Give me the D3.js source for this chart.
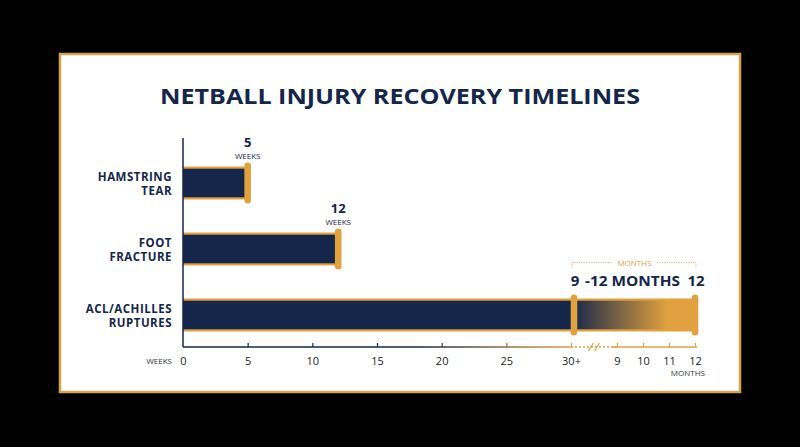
<!DOCTYPE html>
<html>
<head>
<meta charset="utf-8">
<script src="https://cdn.jsdelivr.net/npm/d3@7"></script>
<style>
  body { margin: 0; background: #000; }
  svg { display: block; }
</style>
</head>
<body>
<svg id="chart" width="800" height="447"></svg>
<script>
// data
const categories = ["HAMSTRING TEAR", "FOOT FRACTURE", "ACL/ACHILLES RUPTURES"];
const labelLines = [["HAMSTRING", "TEAR"], ["FOOT", "FRACTURE"], ["ACL/ACHILLES", "RUPTURES"]];
const weeks = [5, 12, 30];
const weekTicks = [0, 5, 10, 15, 20, 25, 30];
const weekTickLabels = ["0", "5", "10", "15", "20", "25", "30+"];
const monthTicks = [9, 10, 11, 12];
const aclMonths = [9, 12];

const navy = "#14264a";
const gold = "#e1a13f";
const font = "'Open Sans', 'DejaVu Sans', sans-serif";

var svg = d3.select("#chart");
var defs = svg.append("defs");

// panel
svg.append("rect")
   .attr("x", 60).attr("y", 54)
   .attr("width", 680).attr("height", 338)
   .attr("fill", "#fff")
   .attr("stroke", "#d6a24f")
   .attr("stroke-width", 2.5);

svg.append("text")
   .attr("x", 400).attr("y", 104)
   .attr("text-anchor", "middle")
   .attr("font-family", font)
   .attr("font-weight", 700)
   .attr("font-size", 22)
   .attr("textLength", 480)
   .attr("lengthAdjust", "spacingAndGlyphs")
   .attr("fill", navy)
   .text("NETBALL INJURY RECOVERY TIMELINES");

// scales
var x = d3.scaleLinear().domain([0, 30]).range([183, 571]);
var xm = d3.scaleLinear().domain([9, 12]).range([617, 695]);
var y = d3.scalePoint().domain(categories).range([183, 315]);
var barH = 33;
var axisY = 347;

// gradients
var g1 = defs.append("linearGradient").attr("id", "aclGrad")
  .attr("gradientUnits", "userSpaceOnUse")
  .attr("x1", x(30)).attr("x2", xm(12)).attr("y1", 0).attr("y2", 0);
g1.append("stop").attr("offset", "0%").attr("stop-color", navy);
g1.append("stop").attr("offset", "78%").attr("stop-color", gold);
g1.append("stop").attr("offset", "100%").attr("stop-color", gold);

var g2 = defs.append("linearGradient").attr("id", "axisGrad")
  .attr("gradientUnits", "userSpaceOnUse")
  .attr("x1", x(0)).attr("x2", x(30)).attr("y1", 0).attr("y2", 0);
g2.append("stop").attr("offset", "0%").attr("stop-color", navy);
g2.append("stop").attr("offset", "60%").attr("stop-color", navy);
g2.append("stop").attr("offset", "100%").attr("stop-color", gold);

// bars
var bars = svg.append("g");
categories.forEach(function(c, i) {
  var cy = y(c);
  var end = x(weeks[i]);
  var full = (i === 2) ? xm(aclMonths[1]) : end;
  bars.append("rect")
      .attr("x", x(0)).attr("y", cy - barH / 2)
      .attr("width", full - x(0)).attr("height", barH)
      .attr("fill", gold);
  bars.append("rect")
      .attr("x", x(0)).attr("y", cy - barH / 2 + 2.2)
      .attr("width", end - x(0)).attr("height", barH - 4.4)
      .attr("fill", navy);
  if (i === 2) {
    bars.append("rect")
        .attr("x", end).attr("y", cy - barH / 2 + 2.2)
        .attr("width", full - end).attr("height", barH - 4.4)
        .attr("fill", "url(#aclGrad)");
  }
  var caps = (i === 2) ? [end + 3, full] : [end];
  caps.forEach(function(cx) {
    bars.append("rect")
        .attr("x", cx - 3.3).attr("y", cy - barH / 2 - 4)
        .attr("width", 6.6).attr("height", barH + 8)
        .attr("rx", 3.3)
        .attr("fill", gold);
  });

  // category labels
  var t = svg.append("text")
      .attr("text-anchor", "end")
      .attr("font-family", font)
      .attr("font-weight", 700)
      .attr("font-size", 11.5)
      .attr("letter-spacing", 0.5)
      .attr("fill", navy);
  labelLines[i].forEach(function(l, k) {
    t.append("tspan").attr("x", 172).attr("y", cy - 2 + k * 14).text(l);
  });

  // value labels
  if (i < 2) {
    svg.append("text")
       .attr("x", end).attr("y", cy - barH / 2 - 20)
       .attr("text-anchor", "middle")
       .attr("font-family", font).attr("font-weight", 700).attr("font-size", 13)
       .attr("fill", navy).text(weeks[i]);
    svg.append("text")
       .attr("x", end).attr("y", cy - barH / 2 - 7.5)
       .attr("text-anchor", "middle")
       .attr("font-family", font).attr("font-size", 8)
       .attr("fill", navy).text("WEEKS");
  } else {
    var ty = cy - barH / 2 - 13;
    svg.append("text")
       .attr("x", end + 4).attr("y", ty)
       .attr("text-anchor", "middle")
       .attr("font-family", font).attr("font-weight", 700).attr("font-size", 15)
       .attr("fill", navy).text(aclMonths[0]);
    svg.append("text")
       .attr("x", end + 14).attr("y", ty)
       .attr("font-family", font).attr("font-weight", 700).attr("font-size", 15)
       .attr("textLength", 95).attr("lengthAdjust", "spacingAndGlyphs")
       .attr("fill", navy).text("-" + aclMonths[1] + " MONTHS");
    svg.append("text")
       .attr("x", full + 1).attr("y", ty)
       .attr("text-anchor", "middle")
       .attr("font-family", font).attr("font-weight", 700).attr("font-size", 15)
       .attr("fill", navy).text(aclMonths[1]);

    // months bracket
    var by = ty - 23;
    var br = svg.append("g").attr("stroke", gold).attr("stroke-width", 0.8)
                .attr("stroke-dasharray", "1.2,1.2").attr("fill", "none");
    br.append("path").attr("d", "M" + (end + 1) + "," + (by + 5) + "V" + by + "H" + 612);
    br.append("path").attr("d", "M" + 657 + "," + by + "H" + (full + 1) + "V" + (by + 5));
    svg.append("text")
       .attr("x", 634.5).attr("y", by + 3)
       .attr("text-anchor", "middle")
       .attr("font-family", font).attr("font-size", 8)
       .attr("fill", gold).text("MONTHS");
  }
});

// y axis line
svg.append("line")
   .attr("x1", x(0)).attr("x2", x(0))
   .attr("y1", 138).attr("y2", axisY)
   .attr("stroke", navy).attr("stroke-width", 1.5);

// week axis
svg.append("line")
   .attr("x1", x(0)).attr("x2", x(30))
   .attr("y1", axisY).attr("y2", axisY)
   .attr("stroke", "url(#axisGrad)").attr("stroke-width", 1.5);

var wAxis = svg.append("g").attr("transform", "translate(0," + axisY + ")")
  .call(d3.axisBottom(x).tickValues(weekTicks).tickSizeInner(-4).tickSizeOuter(0)
          .tickPadding(10).tickFormat(function(d, i) { return weekTickLabels[i]; }));
wAxis.select(".domain").remove();
wAxis.selectAll(".tick line").attr("stroke", function(d) { return d === 0 ? "none" : d3.interpolateRgb(navy, gold)(Math.max(0, (d - 18) / 12)); })
     .attr("stroke-width", 1.2);
wAxis.selectAll(".tick text").attr("font-family", font).attr("font-size", 11).attr("fill", "#222");

// broken segment
svg.append("line")
   .attr("x1", x(30)).attr("x2", xm(9))
   .attr("y1", axisY).attr("y2", axisY)
   .attr("stroke", gold).attr("stroke-width", 1.5)
   .attr("stroke-dasharray", "2,2");
[591, 597].forEach(function(sx) {
  svg.append("line")
     .attr("x1", sx - 2.5).attr("x2", sx + 2.5)
     .attr("y1", axisY + 4).attr("y2", axisY - 4)
     .attr("stroke", gold).attr("stroke-width", 1.3);
});

// month axis
svg.append("line")
   .attr("x1", xm(9) - 4).attr("x2", xm(12) + 2)
   .attr("y1", axisY).attr("y2", axisY)
   .attr("stroke", gold).attr("stroke-width", 1.5);
var mAxis = svg.append("g").attr("transform", "translate(0," + axisY + ")")
  .call(d3.axisBottom(xm).tickValues(monthTicks).tickSizeInner(-4).tickSizeOuter(0)
          .tickPadding(10).tickFormat(d3.format("d")));
mAxis.select(".domain").remove();
mAxis.selectAll(".tick line").attr("stroke", gold).attr("stroke-width", 1.2);
mAxis.selectAll(".tick text").attr("font-family", font).attr("font-size", 11).attr("fill", "#222");

// unit labels
svg.append("text")
   .attr("x", 172).attr("y", 364)
   .attr("text-anchor", "end")
   .attr("font-family", font).attr("font-size", 8)
   .attr("fill", "#333").text("WEEKS");
svg.append("text")
   .attr("x", 705).attr("y", 376)
   .attr("text-anchor", "end")
   .attr("font-family", font).attr("font-size", 8)
   .attr("fill", "#333").text("MONTHS");
</script>
</body>
</html>
